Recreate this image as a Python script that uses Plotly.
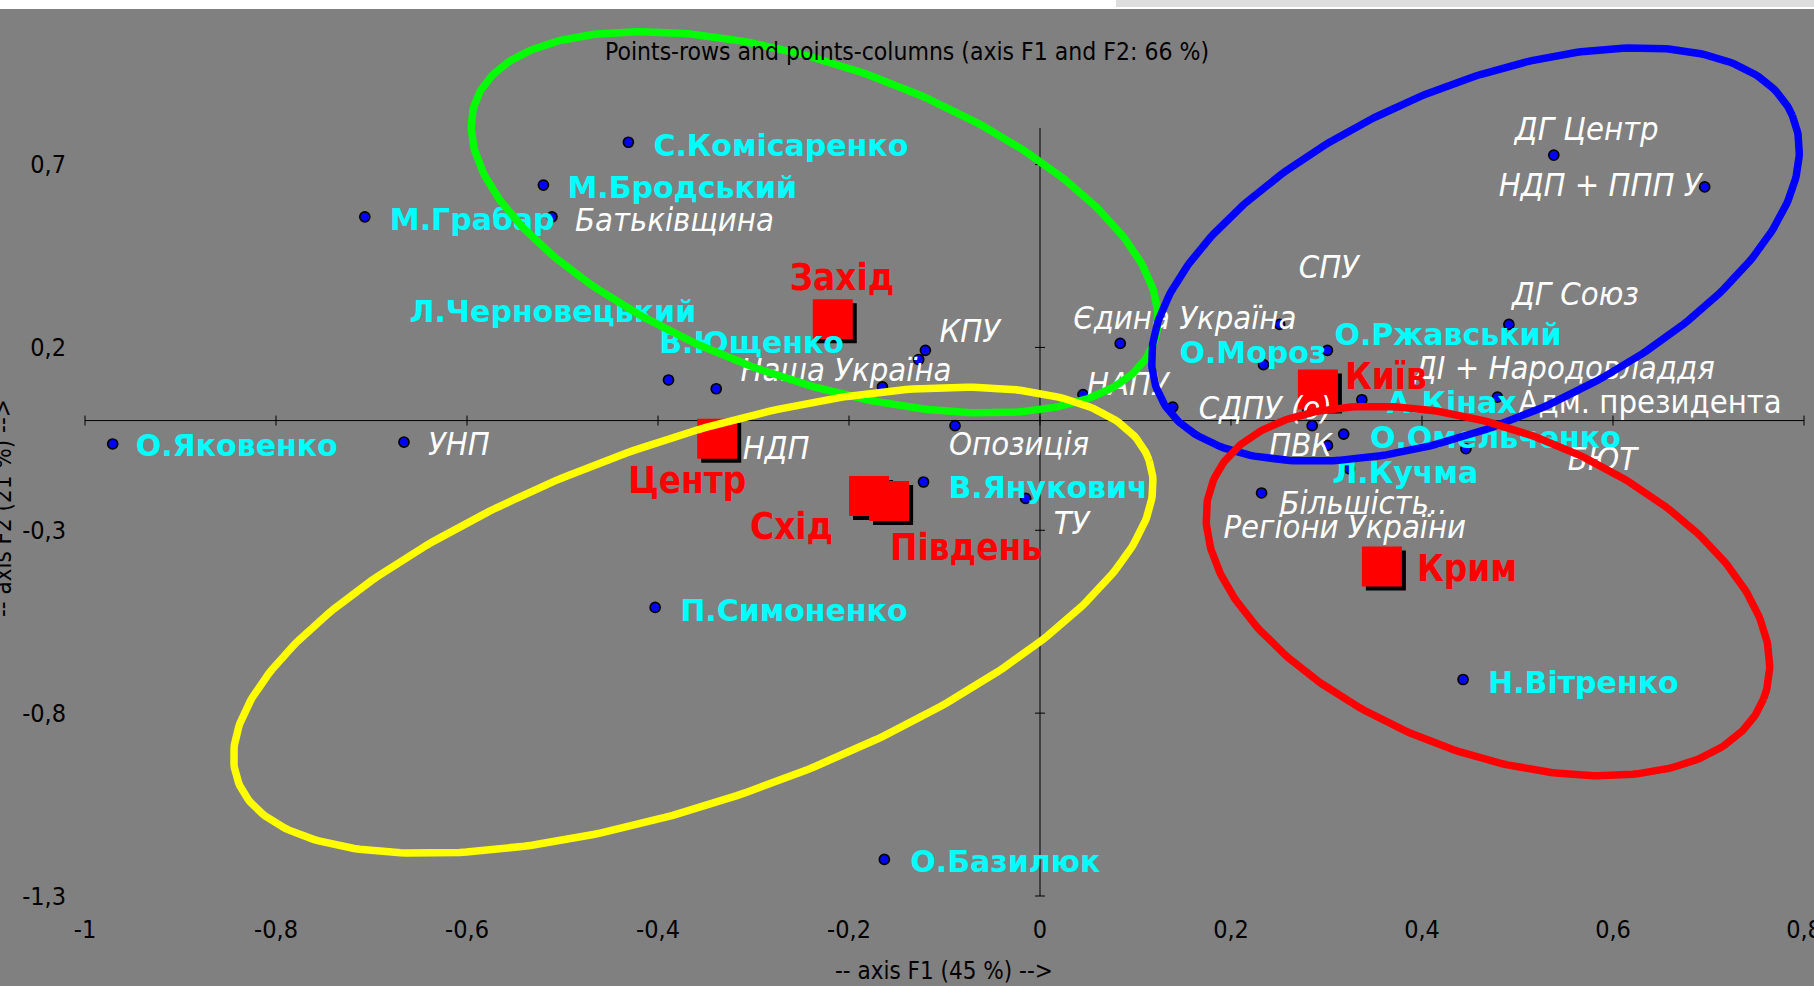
import numpy as np
import plotly.graph_objects as go

# ---------------- data ----------------
cand_names = ["О.Яковенко", "М.Грабар", "М.Бродський", "С.Комісаренко", "Л.Черновецький",
              "В.Ющенко", "П.Симоненко", "О.Базилюк", "В.Янукович", "О.Мороз",
              "О.Ржавський", "А.Кінах", "О.Омельченко", "Л.Кучма", "Н.Вітренко"]
cand_x = [-0.971, -0.707, -0.520, -0.431, -0.389, -0.339, -0.403, -0.163, -0.122, 0.234,
          0.301, 0.337, 0.446, 0.324, 0.443]
cand_y = [-0.064, 0.557, 0.644, 0.761, 0.111, 0.087, -0.511, -1.200, -0.168, 0.153,
          0.192, 0.057, -0.077, -0.132, -0.708]

party_names = ["УНП", "Батьківщина", "Наша Україна", "КПУ", "НДП", "Опозиція", "ТУ",
               "Єдина Україна", "НАПУ", "СДПУ (о)", "ПВК", "Більшість..", "Регіони України",
               "СПУ", "ДГ Центр", "НДП + ППП У", "ДГ Союз", "ДІ + Народовладдя",
               "Адм. президента", "БЮТ"]
party_x = [-0.666, -0.511, -0.165, -0.120, -0.127, -0.089, -0.015, 0.084, 0.045, 0.139,
           0.285, 0.232, 0.301, 0.251, 0.538, 0.696, 0.491, 0.291, 0.479, 0.318]
party_y = [-0.059, 0.557, 0.092, 0.192, 0.167, -0.014, -0.213, 0.211, 0.071, 0.037,
           -0.014, -0.198, -0.068, 0.263, 0.726, 0.639, 0.263, 0.085, 0.064, -0.037]

region_names = ["Захід", "Центр", "Схід", "Південь", "Київ", "Крим"]
region_x = [-0.217, -0.338, -0.179, -0.158, 0.291, 0.358]
region_y = [0.277, -0.050, -0.206, -0.220, 0.085, -0.399]

x_tickvals = [-1, -0.8, -0.6, -0.4, -0.2, 0, 0.2, 0.4, 0.6, 0.8]
x_ticktext = ["-1", "-0,8", "-0,6", "-0,4", "-0,2", "0", "0,2", "0,4", "0,6", "0,8"]
y_tickvals = [0.7, 0.2, -0.3, -0.8, -1.3]
y_ticktext = ["0,7", "0,2", "-0,3", "-0,8", "-1,3"]

title_text = "Points-rows and points-columns (axis F1 and F2: 66 %)"
xtitle_text = "-- axis F1 (45 %) -->"
ytitle_text = "-- axis F2 (21 %) -->"

# ---------------- layout constants ----------------
W, H = 1814, 986
# pixel frame of the data box [-1,0.8] x [-1.3,0.8]
FL, FR, FT, FB = 85, 10, 128, 90
XB = [-1.0, 0.8]
YB = [-1.3, 0.8]
PXX = (W - FL - FR) / (XB[1] - XB[0])
PXY = (H - FT - FB) / (YB[1] - YB[0])
XR = [XB[0] - FL / PXX, XB[1] + FR / PXX]
YR = [YB[0] - FB / PXY, YB[1] + FT / PXY]
FONT = "DejaVu Sans Condensed, DejaVu Sans, sans-serif"
FONT_WIDE = "DejaVu Sans, sans-serif"
BG = "#808080"
DY0 = 3  # global vertical nudge for labels (px, down)

# label placement: (dx to left edge, dy to vertical centre) in screen pixels
label_off = {
    "О.Яковенко": (23, 2), "М.Грабар": (25, 3), "М.Бродський": (24, 2),
    "С.Комісаренко": (25, 3), "Л.Черновецький": (-259, -68), "В.Ющенко": (-57, -46),
    "П.Симоненко": (25, 3), "О.Базилюк": (26, 2), "В.Янукович": (25, 5),
    "О.Мороз": (-84, -12), "О.Ржавський": (7, -16), "А.Кінах": (25, 3),
    "О.Омельченко": (-96, -11), "Л.Кучма": (-17, 4), "Н.Вітренко": (25, 3),
    "УНП": (24, 2), "Батьківщина": (23, 3), "Наша Україна": (-142, -17), "КПУ": (14, -19),
    "НДП": (-176, 88), "Опозиція": (-6, 18), "ТУ": (28, 24), "Єдина Україна": (-47, -26),
    "НАПУ": (4, -11), "СДПУ (о)": (26, 1), "ПВК": (-43, 19), "Більшість..": (18, 10),
    "Регіони України": (-104, 81), "СПУ": (19, -58), "ДГ Центр": (-39, -26),
    "НДП + ППП У": (-206, -2), "ДГ Союз": (3, -31), "ДІ + Народовладдя": (96, -22),
    "Адм. президента": (21, 5), "БЮТ": (224, 25),
    "Захід": (-43, -41), "Центр": (-89, 42), "Схід": (-119, 31), "Південь": (1, 47),
    "Київ": (27, -13), "Крим": (35, 2),
}

# hand-drawn ellipses: centre (data), semi-axes (px), clockwise tilt (deg), colour
ellipses = [
    ((-0.236, 0.542), 360, 157, 19.5, "#00ff00"),
    ((0.456, 0.454), 346, 167, -23.7, "#0000ff"),
    ((-0.363, -0.546), 483, 180, -19.3, "#ffff00"),
    ((0.469, -0.466), 296, 161, 21.4, "#ff0000"),
]


def shift(xs, ys, names):
    lx, ly = [], []
    for x, y, n in zip(xs, ys, names):
        dx, dy = label_off.get(n, (20, 0))
        lx.append(x + dx / PXX)
        ly.append(y - (dy + DY0) / PXY)
    return lx, ly


fig = go.Figure()

# blue points
fig.add_trace(go.Scatter(
    x=cand_x + party_x, y=cand_y + party_y, mode="markers",
    marker=dict(size=10, color="#0000ff", line=dict(color="black", width=1.7)),
    hoverinfo="skip", showlegend=False))

# region squares with shadow
fig.add_trace(go.Scatter(
    x=[v + 4 / PXX for v in region_x], y=[v - 4 / PXY for v in region_y], mode="markers",
    marker=dict(symbol="square", size=40, color="black", line=dict(width=0)),
    hoverinfo="skip", showlegend=False))
fig.add_trace(go.Scatter(
    x=region_x, y=region_y, mode="markers",
    marker=dict(symbol="square", size=40, color="#ff0000", line=dict(width=0)),
    hoverinfo="skip", showlegend=False))

# labels
lx, ly = shift(cand_x, cand_y, cand_names)
fig.add_trace(go.Scatter(
    x=lx, y=ly, mode="text", text=cand_names, textposition="middle right",
    textfont=dict(family=FONT_WIDE, size=30, color="#00ffff", weight="bold"),
    hoverinfo="skip", showlegend=False))

it_names = [n for n in party_names if n != "Адм. президента"]
it_x = [x for x, n in zip(party_x, party_names) if n != "Адм. президента"]
it_y = [y for y, n in zip(party_y, party_names) if n != "Адм. президента"]
lx, ly = shift(it_x, it_y, it_names)
fig.add_trace(go.Scatter(
    x=lx, y=ly, mode="text", text=it_names, textposition="middle right",
    textfont=dict(family=FONT, size=32.5, color="white", style="italic"),
    hoverinfo="skip", showlegend=False))

up_names = [n for n in party_names if n == "Адм. президента"]
up_x = [x for x, n in zip(party_x, party_names) if n == "Адм. президента"]
up_y = [y for y, n in zip(party_y, party_names) if n == "Адм. президента"]
lx, ly = shift(up_x, up_y, up_names)
fig.add_trace(go.Scatter(
    x=lx, y=ly, mode="text", text=up_names, textposition="middle right",
    textfont=dict(family=FONT, size=32.5, color="white"),
    hoverinfo="skip", showlegend=False))

lx, ly = shift(region_x, region_y, region_names)
fig.add_trace(go.Scatter(
    x=lx, y=ly, mode="text", text=region_names, textposition="middle right",
    textfont=dict(family=FONT, size=36.5, color="#ff0000", weight="bold"),
    hoverinfo="skip", showlegend=False))

# ellipses on top
phi = np.linspace(0, 2 * np.pi, 361)
for (cx, cy), a, b, ang, col in ellipses:
    t = np.deg2rad(ang)
    sx = a * np.cos(phi) * np.cos(t) - b * np.sin(phi) * np.sin(t)
    sy = a * np.cos(phi) * np.sin(t) + b * np.sin(phi) * np.cos(t)
    fig.add_trace(go.Scatter(
        x=cx + sx / PXX, y=cy - sy / PXY, mode="lines",
        line=dict(color=col, width=7.5), hoverinfo="skip", showlegend=False))

# axis lines through the origin and crossing tick marks
shapes = [
    dict(type="line", xref="x", yref="y", x0=XB[0], x1=XB[1], y0=0, y1=0,
         line=dict(color="black", width=1), layer="below"),
    dict(type="line", xref="x", yref="y", x0=0, x1=0, y0=YB[0], y1=YB[1],
         line=dict(color="black", width=1), layer="below"),
]
for v in x_tickvals:
    shapes.append(dict(type="line", xref="x", yref="y", x0=v, x1=v,
                       ysizemode="pixel", yanchor=0, y0=-5, y1=5,
                       line=dict(color="black", width=1), layer="below"))
for v in y_tickvals:
    shapes.append(dict(type="line", xref="x", yref="y", y0=v, y1=v,
                       xsizemode="pixel", xanchor=0, x0=-5, x1=5,
                       line=dict(color="black", width=1), layer="below"))


def px2paper(px, py):
    return px / W, 1 - py / H


# screenshot top strip
x0, y0 = px2paper(0, 0)
x1, y1 = px2paper(W, 9)
shapes.append(dict(type="rect", xref="paper", yref="paper", x0=x0, x1=x1, y0=y1, y1=y0,
                   fillcolor="white", line=dict(width=0), layer="above"))
gx0, gy0 = px2paper(1116, 0)
gx1, gy1 = px2paper(W, 7)
shapes.append(dict(type="rect", xref="paper", yref="paper", x0=gx0, x1=gx1, y0=gy1, y1=gy0,
                   fillcolor="#dddddd", line=dict(width=0), layer="above"))

ax_x, ax_y = px2paper(944, 971)
ay_x, ay_y = px2paper(3, 508)
annotations = [
    dict(text=xtitle_text, xref="paper", yref="paper", x=ax_x, y=ax_y,
         xanchor="center", yanchor="middle", showarrow=False,
         font=dict(family=FONT, size=24, color="black")),
    dict(text=ytitle_text, xref="paper", yref="paper", x=ay_x, y=ay_y, textangle=-90,
         xanchor="center", yanchor="middle", showarrow=False,
         font=dict(family=FONT, size=24, color="black")),
]

fig.update_layout(
    width=W, height=H, margin=dict(l=0, r=0, t=0, b=0, pad=0),
    paper_bgcolor=BG, plot_bgcolor=BG,
    title=dict(text=title_text, x=0.5, xref="container", y=1 - 51 / H, yref="container",
               xanchor="center", yanchor="middle",
               font=dict(family=FONT, size=24.5, color="black")),
    shapes=shapes, annotations=annotations, showlegend=False,
    xaxis=dict(range=XR, showgrid=False, zeroline=False, showline=False,
               anchor="free", position=FB / H,
               tickvals=x_tickvals, ticktext=x_ticktext, ticklabeloverflow="allow",
               ticks="outside", ticklen=11, tickcolor="rgba(0,0,0,0)",
               tickfont=dict(family=FONT, size=25, color="black"), automargin=False,
               fixedrange=True),
    yaxis=dict(range=YR, showgrid=False, zeroline=False, showline=False,
               anchor="free", position=FL / W,
               tickvals=y_tickvals, ticktext=y_ticktext, ticklabeloverflow="allow",
               ticks="outside", ticklen=14, tickcolor="rgba(0,0,0,0)",
               tickfont=dict(family=FONT, size=25, color="black"), automargin=False,
               fixedrange=True),
)

fig.write_html("out.html", config={"displayModeBar": False},
               post_script="document.body.style.margin='0';document.body.style.overflow='hidden';")
